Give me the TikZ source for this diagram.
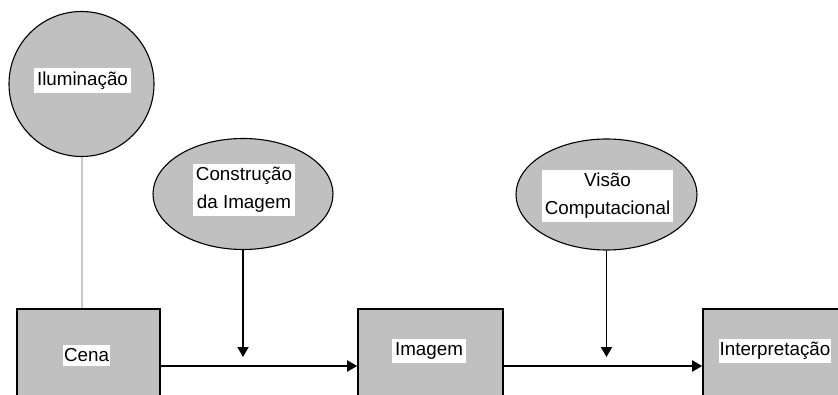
\documentclass[tikz,border=0pt]{standalone}
\usepackage{fontspec}
\setmainfont{Liberation Sans}
\usetikzlibrary{shapes.geometric,arrows.meta}

\definecolor{boxgrey}{RGB}{192,192,192}
\definecolor{linegrey}{RGB}{200,200,200}

\tikzset{
  stage/.style    = {draw, fill = boxgrey, line width = 1.6pt, rectangle,
                     minimum width = 143pt, minimum height = 114pt},
  blob/.style     = {draw, fill = boxgrey, line width = 1.1pt, ellipse,
                     minimum width = 180pt, minimum height = 111pt},
  tag/.style      = {fill = white, align = center, inner xsep = 3pt, inner ysep = 3.5pt,
                     font = \fontsize{18.8}{28}\selectfont},
  flow/.style     = {-{Triangle[length = 10pt, width = 11pt]}, line width = 1.8pt}
}

\begin{document}
\begin{tikzpicture}[x = 1pt, y = -1pt]
          \path[use as bounding box, clip] (0,0) rectangle (838,395);

          \node[draw, circle, fill = boxgrey, line width = 1.1pt, minimum size = 145pt] at (81.5, 84) (ilum) {};
          \node[blob]                        at (243, 194)   (constr) {};
          \node[blob, minimum width = 181pt] at (606.5, 194.5) (visao) {};

          \node[stage]                        at (88.5, 366)  (cena)   {};
          \node[stage, minimum width = 145pt] at (430.5, 366) (imagem) {};
          \node[stage, minimum width = 160pt] at (783, 366)   (interp) {};

          \node[tag] at (82.5, 80.5) (ilumT)   {Iluminação};
          \node[tag] at (244, 190)   (constrT) {Construção\\da Imagem};
          \node[tag] at (607.5, 196) (visaoT)  {Visão\\Computacional};
          \node[tag, inner xsep = 1pt] at (86.5, 355.5) (cenaT) {Cena};
          \node[tag] at (429, 351)   (imagemT) {Imagem};
          \node[tag, inner xsep = 1pt] at (775, 351)   (interpT) {Interpretação};

          \coordinate (c1) at (constr.south |- 0, 357);
          \coordinate (c2) at (visao.south |- 0, 357);

          \draw[linegrey, line width = 2pt] (ilum.south) -- (ilum.south |- cena.north);
          \draw[flow] (constr.south) -- (c1);
          \draw[flow] (visao.south)  -- (c2);
          \draw[flow] (cena.east)    -- (imagem.west);
          \draw[flow] (imagem.east)  -- (interp.west);
        \end{tikzpicture}
\end{document}
